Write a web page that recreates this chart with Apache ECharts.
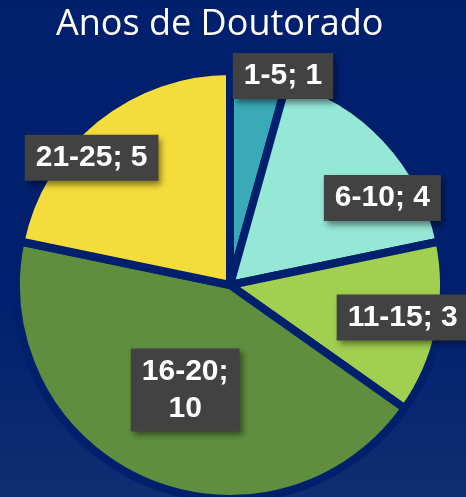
<!DOCTYPE html>
<html>
<head>
<meta charset="utf-8">
<script src="https://cdn.jsdelivr.net/npm/echarts@6/dist/echarts.min.js"></script>
<style>
  html, body { margin: 0; padding: 0; }
  #chart { width: 466px; height: 497px; }
</style>
</head>
<body>
<div id="chart"></div>
<script>
// faixas de anos de doutorado e contagens
const categories = ['1-5', '6-10', '11-15', '16-20', '21-25'];
const counts = [1, 4, 3, 10, 5];
const sliceColors = ['#3AAAB9', '#95E8D6', '#A1CF4F', '#5F8F3E', '#F4DD3A'];
// deslocamento dos rótulos a partir da posição 'inside'
const labelShift = [[38, -100], [72, -12], [65, 10], [-1, 4], [-69, -42]];

const bg = '#00206E';

let chart = echarts.init(document.getElementById('chart'));

let pieData = categories.map((name, i) => {
  let item = { name: name, value: counts[i], itemStyle: { color: sliceColors[i] } };
  if (counts[i] >= 10) {
    item.label = { formatter: '{b};\n{c}' };
  }
  return item;
});

let option = {
  backgroundColor: {
    type: 'linear', x: 0, y: 0, x2: 0, y2: 1,
    colorStops: [
      { offset: 0, color: '#00206E' },
      { offset: 0.6, color: '#00216F' },
      { offset: 1, color: '#112D72' }
    ]
  },
  title: {
    text: 'Anos de Doutorado',
    left: 51,
    top: 2,
    textStyle: {
      color: '#ffffff',
      fontFamily: 'Open Sans',
      fontWeight: 'normal',
      fontSize: 36
    }
  },
  series: [
    {
      type: 'pie',
      center: [230, 285],
      radius: 214,
      startAngle: 90,
      clockwise: true,
      animation: false,
      avoidLabelOverlap: false,
      data: pieData,
      itemStyle: {
        borderColor: bg,
        borderWidth: 8
      },
      labelLine: { show: false },
      label: {
        show: true,
        position: 'inside',
        formatter: '{b}; {c}',
        color: '#ffffff',
        fontFamily: 'Liberation Sans',
        fontWeight: 'bold',
        fontSize: 30,
        lineHeight: 37,
        align: 'center',
        backgroundColor: '#424242',
        padding: [5, 11, 4, 11],
        shadowColor: 'rgba(0,0,0,0.45)',
        shadowBlur: 6,
        shadowOffsetX: 3,
        shadowOffsetY: 4
      },
      labelLayout: function (params) {
        let s = labelShift[params.dataIndex];
        return { dx: s[0], dy: s[1] };
      }
    }
  ]
};

chart.setOption(option);
</script>
</body>
</html>
